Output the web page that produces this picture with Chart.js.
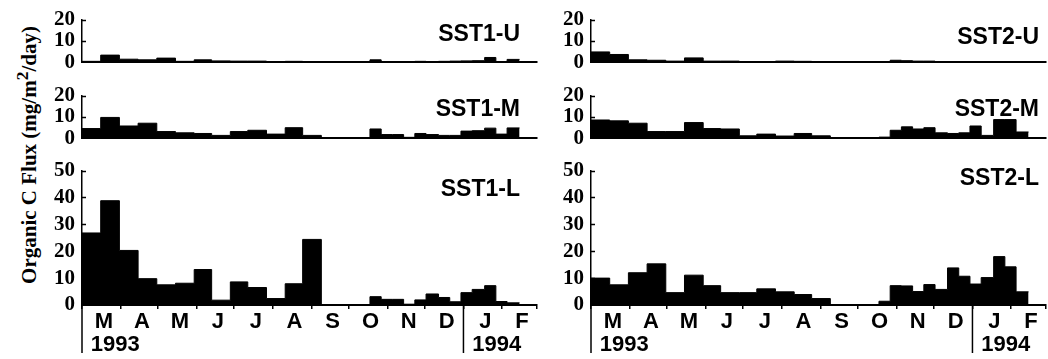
<!DOCTYPE html>
<html>
<head>
<meta charset="utf-8">
<script src="https://cdn.jsdelivr.net/npm/chart.js@4.4.0/dist/chart.umd.min.js"></script>
<style>
  html, body { margin: 0; padding: 0; background: #fff; }
  #wrap { position: relative; width: 1048px; height: 359px; overflow: hidden; background: #fff; }
  canvas { position: absolute; }
  #ytitle {
    position: absolute; left: 27px; top: 155px;
    transform: translate(-50%, -50%) rotate(-90deg);
    font: bold 21px "Liberation Serif", "Times New Roman", serif;
    white-space: nowrap; color: #000;
  }
</style>
</head>
<body>
<div id="wrap">
  <div id="ytitle">Organic C Flux (mg/m<sup>2</sup>/day)</div>
  <canvas id="sst1u" width="545" height="82" style="left:0;top:0"></canvas>
  <canvas id="sst1m" width="545" height="82" style="left:0;top:76px"></canvas>
  <canvas id="sst1l" width="545" height="208" style="left:0;top:151px"></canvas>
  <canvas id="sst2u" width="539" height="82" style="left:509px;top:0"></canvas>
  <canvas id="sst2m" width="539" height="82" style="left:509px;top:76px"></canvas>
  <canvas id="sst2l" width="539" height="208" style="left:509px;top:151px"></canvas>
</div>
<script>
// sampling intervals, days since 1 Mar 1993 (start of each trap cup)
const binStartDays = [0, 15, 30, 45, 60, 75, 90, 104, 119, 133, 148, 163, 177, 192,
  231, 240, 249, 258, 267, 276, 286, 295, 304, 313, 323, 332, 341];
const binEndDay = 351;

// month boundaries / labels (Mar 1993 .. Feb 1994)
const monthStartDays = [0, 31, 61, 92, 122, 153, 184, 214, 245, 275, 306, 337, 365];
const monthLabels = ["M", "A", "M", "J", "J", "A", "S", "O", "N", "D", "J", "F"];
const yearLabels = ["1993", "1994"];
const yearTickDays = [7, 313];
const yearDividerDays = [0, 306];

// organic C flux, mg/m2/day
const sst1U = [0.5, 3.4, 1.5, 1.2, 2.0, 0.5, 1.2, 0.7, 0.6, 0.6, 0.4, 0.5, 0.4, 0,
  1.2, 0.3, 0.3, 0.1, 0.5, 0.3, 0.5, 0.6, 0.7, 0.8, 2.3, 0.4, 1.4];
const sst1M = [4.6, 9.8, 5.8, 7.1, 3.2, 2.6, 2.3, 1.4, 3.2, 3.8, 2.0, 5.0, 1.4, 0,
  4.4, 1.8, 1.8, 0.5, 2.3, 1.8, 1.4, 1.4, 3.4, 3.6, 4.8, 2.0, 4.9];
const sst1L = [26.8, 38.8, 20.3, 9.8, 7.5, 8.1, 13.2, 1.8, 8.6, 6.5, 2.4, 7.9, 24.4, 0,
  3.1, 2.1, 2.1, 0.3, 1.9, 4.1, 2.8, 1.2, 4.6, 5.8, 7.2, 1.3, 0.8];
const sst2U = [4.9, 3.7, 1.2, 1.0, 0.6, 2.1, 0.6, 0.6, 0.4, 0.4, 0.6, 0.5, 0.4, 0,
  0.3, 1.0, 0.8, 0.6, 0.6, 0.4, 0.4, 0.4, 0.3, 0.3, 0.3, 0.2, 0.2];
const sst2M = [8.6, 8.2, 7.1, 3.2, 3.2, 7.4, 4.6, 4.4, 1.2, 2.0, 1.1, 2.3, 1.2, 0,
  0.6, 3.8, 5.4, 4.4, 5.0, 2.6, 2.3, 2.6, 5.8, 1.4, 8.8, 8.8, 3.0];
const sst2L = [10.0, 7.5, 12.0, 15.3, 4.6, 11.1, 7.2, 4.6, 4.6, 6.0, 4.9, 3.9, 2.4, 0,
  1.4, 7.2, 7.1, 5.0, 7.6, 5.8, 13.8, 10.7, 7.8, 10.2, 18.0, 14.2, 4.9];

const SERIF = '"Liberation Serif", "Times New Roman", serif';
const SANS = '"Liberation Sans", Arial, Helvetica, sans-serif';

// ---- small drawing helpers ----
const panelLabel = {
  id: "panelLabel",
  afterDraw(chart, args, opts) {
    const { ctx, chartArea } = chart;
    ctx.save();
    ctx.font = "bold 23px " + SANS;
    ctx.fillStyle = "#000";
    ctx.textAlign = "right";
    ctx.textBaseline = "middle";
    ctx.fillText(opts.text, chartArea.right - opts.dx, chartArea.top + opts.dy);
    ctx.restore();
  }
};

// short tick marks pointing into the plot
const innerTicks = {
  id: "innerTicks",
  afterDraw(chart) {
    const y = chart.scales.y;
    const ctx = chart.ctx;
    ctx.save();
    ctx.strokeStyle = "#000";
    ctx.lineWidth = 1.5;
    y.ticks.forEach(t => {
      if (t.value === 0) return;
      const py = Math.round(y.getPixelForValue(t.value)) + 0.5;
      ctx.beginPath();
      ctx.moveTo(chart.chartArea.left, py);
      ctx.lineTo(chart.chartArea.left + 4, py);
      ctx.stroke();
    });
    ctx.restore();
  }
};

// vertical lines under the axis at the start of each year
const yearDividers = {
  id: "yearDividers",
  afterDraw(chart, args, opts) {
    if (!opts.days) return;
    const x = chart.scales.x;
    const ctx = chart.ctx;
    ctx.save();
    ctx.strokeStyle = "#000";
    ctx.lineWidth = 1.5;
    opts.days.forEach(d => {
      const px = x.getPixelForValue(d);
      ctx.beginPath();
      ctx.moveTo(px, chart.chartArea.bottom);
      ctx.lineTo(px, chart.height - 6);
      ctx.stroke();
    });
    ctx.restore();
  }
};

// ====================================================
// one panel
// ====================================================
function makePanel(canvasId, values, yMax, label, padding, withAxis) {
  const points = binStartDays.map((d, i) => ({ x: d, y: values[i] }));
  points.push({ x: binEndDay, y: values[values.length - 1] });

  const scales = {
    x: {
      type: "linear", position: "bottom", min: 0, max: 365, weight: 0,
      afterBuildTicks: a => { a.ticks = monthStartDays.map(v => ({ value: v })); },
      grid: { display: withAxis, drawOnChartArea: false, drawTicks: true, tickLength: 4, color: "#000", lineWidth: 1.5 },
      border: { display: true, color: "#000", width: 2 },
      ticks: { display: false },
      afterFit: a => { a.height = withAxis ? 4 : 0; }
    },
    y: {
      min: 0, max: yMax,
      ticks: {
        stepSize: 10, autoSkip: false, color: "#000", padding: 7,
        font: { family: SERIF, size: 21, weight: "bold" }
      },
      grid: { display: false, drawTicks: false },
      border: { display: true, color: "#000", width: 1.5 },
      afterFit: a => { a.width = 82; }
    }
  };

  if (withAxis) {
    scales.xMonth = {
      type: "linear", position: "bottom", min: 0, max: 365, weight: 1,
      afterBuildTicks: a => {
        a.ticks = monthStartDays.slice(0, -1).map((v, i) => ({ value: (v + monthStartDays[i + 1]) / 2 + 2 }));
      },
      grid: { display: false, drawTicks: false },
      border: { display: false },
      ticks: {
        autoSkip: false, maxRotation: 0, padding: 0, color: "#000",
        font: { family: SANS, size: 22, weight: "bold" },
        callback: (v, i) => monthLabels[i]
      },
      afterFit: a => { a.height = 23; }
    };
    scales.xYear = {
      type: "linear", position: "bottom", min: 0, max: 365, weight: 2,
      afterBuildTicks: a => { a.ticks = yearTickDays.map(v => ({ value: v })); },
      grid: { display: false, drawTicks: false },
      border: { display: false },
      ticks: {
        autoSkip: false, maxRotation: 0, padding: 0, align: "start", color: "#000",
        font: { family: SANS, size: 22, weight: "bold" },
        callback: (v, i) => yearLabels[i]
      },
      afterFit: a => { a.height = 27; }
    };
  }

  return new Chart(document.getElementById(canvasId), {
    type: "line",
    data: {
      datasets: [{
        data: points,
        stepped: true,
        fill: "origin",
        backgroundColor: "#000",
        borderColor: "#000",
        borderWidth: 1,
        pointRadius: 0,
        tension: 0
      }]
    },
    options: {
      responsive: false,
      animation: false,
      events: [],
      layout: { padding: padding },
      scales,
      plugins: {
        legend: { display: false },
        tooltip: { enabled: false },
        panelLabel: label,
        yearDividers: { days: withAxis ? yearDividerDays : null }
      }
    },
    plugins: [panelLabel, innerTicks, yearDividers]
  });
}

makePanel("sst1u", sst1U, 20, { text: "SST1-U", dx: 17, dy: 15 }, { top: 15, bottom: 12, left: 0, right: 8 }, false);
makePanel("sst1m", sst1M, 20, { text: "SST1-M", dx: 17, dy: 14.5 }, { top: 14, bottom: 12, left: 0, right: 8 }, false);
makePanel("sst1l", sst1L, 50, { text: "SST1-L", dx: 17, dy: 19 }, { top: 14.5, bottom: 0, left: 0, right: 8 }, true);
makePanel("sst2u", sst2U, 20, { text: "SST2-U", dx: 7, dy: 18.5 }, { top: 15, bottom: 12, left: 0, right: 2 }, false);
makePanel("sst2m", sst2M, 20, { text: "SST2-M", dx: 7, dy: 14 }, { top: 14, bottom: 12, left: 0, right: 2 }, false);
makePanel("sst2l", sst2L, 50, { text: "SST2-L", dx: 7, dy: 8 }, { top: 14.5, bottom: 0, left: 0, right: 2 }, true);
</script>
</body>
</html>
